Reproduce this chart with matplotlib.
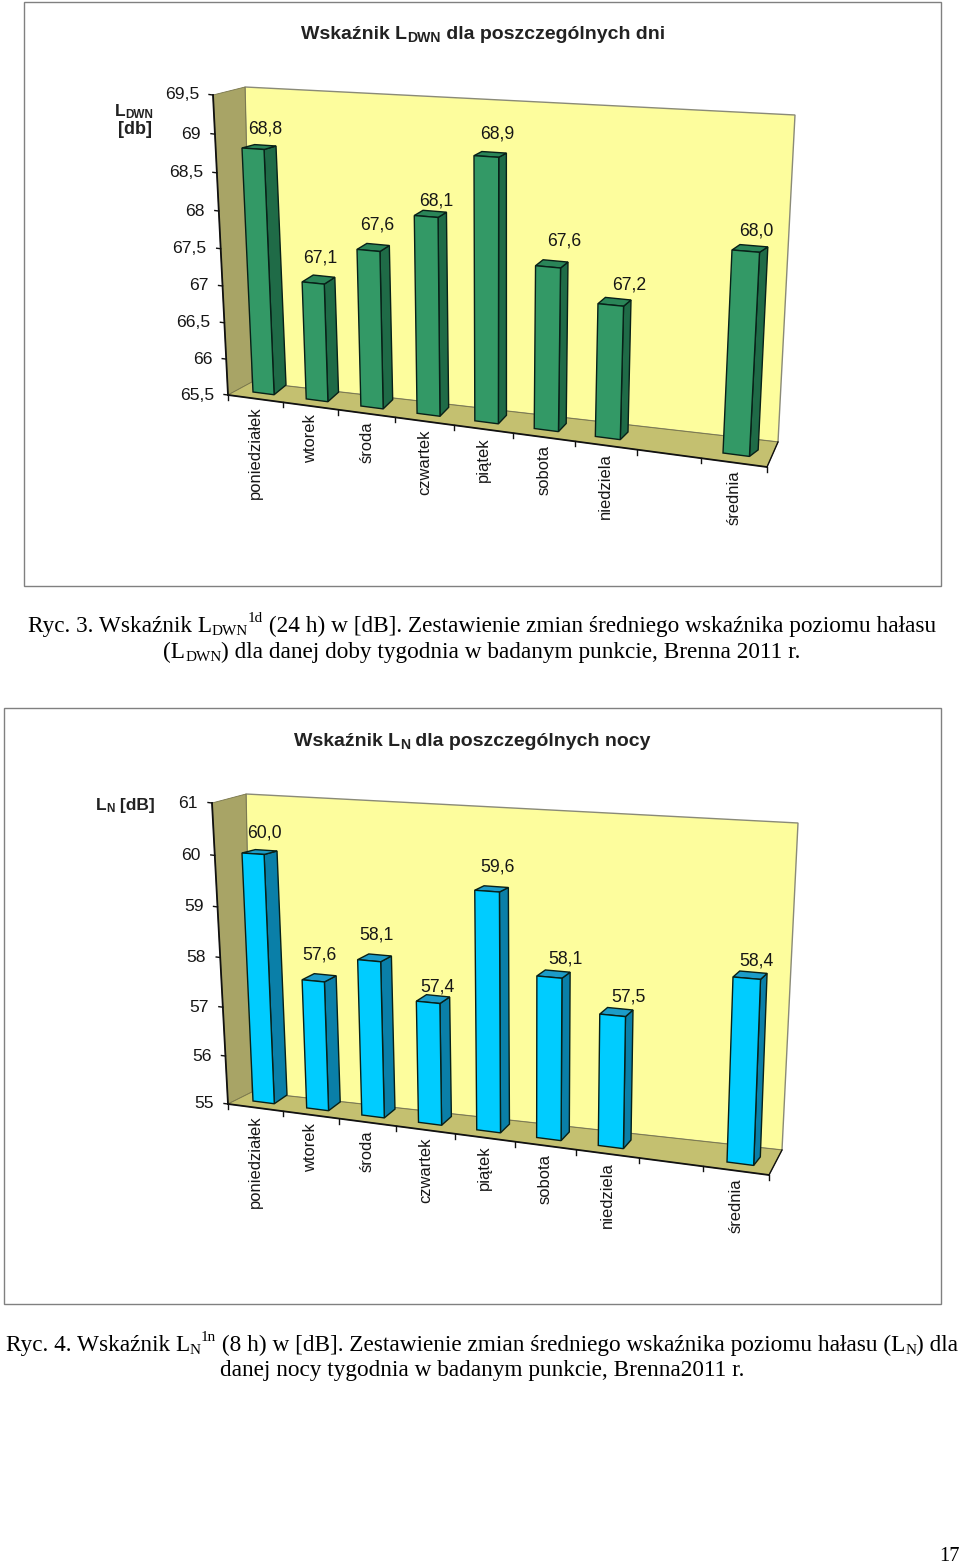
#!/usr/local/bin/python3
'''Two pseudo-3D column charts on a scanned report page
'''

import numpy as np
import matplotlib
matplotlib.use('Agg')
import matplotlib.pyplot as plt
from matplotlib.patches import Polygon, Rectangle
from matplotlib.transforms import Transform

days = ['poniedziałek', 'wtorek', 'środa', 'czwartek', 'piątek', 'sobota',
        'niedziela', 'średnia']
# the slot before the average stays empty
slots = [0, 1, 2, 3, 4, 5, 6, 8]

ldwn_values = [68.8, 67.1, 67.6, 68.1, 68.9, 67.6, 67.2, 68.0]
ldwn_ticks = [65.5, 66, 66.5, 67, 67.5, 68, 68.5, 69, 69.5]

ln_values = [60.0, 57.6, 58.1, 57.4, 59.6, 58.1, 57.5, 58.4]
ln_ticks = [55, 56, 57, 58, 59, 60, 61]

# nudges of the value labels in pixels, off the front top edge of each column
ldwn_nudge = [(12, -20), (7, -25), (9, -25), (10, -15), (11, -22), (16, -26), (18, -20), (11, -20)]
ln_nudge = [(11, -21), (6, -26), (7, -26), (9, -15), (10, -24), (16, -18), (16, -18), (10, -17)]

WALL = '#FDFD9D'
SIDE = '#A8A466'
FLOOR = '#C4C070'
SERIF = 'Liberation Serif'
SANS = 'Liberation Sans'
INK = '#161616'


class Plane(Transform):
    '''Projective map from (slot, value) to page pixels, fitted on 4 anchors
    '''
    input_dims = 2
    output_dims = 2

    def __init__(self, src, dst):
        super().__init__()
        A, b = [], []
        for (u, v), (x, y) in zip(src, dst):
            A.append([u, v, 1, 0, 0, 0, -u * x, -v * x])
            A.append([0, 0, 0, u, v, 1, -u * y, -v * y])
            b += [x, y]
        self.m = np.append(np.linalg.solve(np.array(A, float), np.array(b, float)), 1).reshape(3, 3)

    def transform_non_affine(self, values):
        pts = np.column_stack([np.asarray(values, float), np.ones(len(values))]) @ self.m.T
        return pts[:, :2] / pts[:, 2:]


def seq_text(ax, cx, y, parts, family=SERIF, weight='normal', size=16.75, color='k', align='center'):
    '''Write runs of text with sub and superscripts on one baseline
    parts: (string, relative size, rise in pixels)
    '''
    rend = ax.figure.canvas.get_renderer()

    def advance(s, fs):
        probe = ax.text(0, 0, s + '|', family=family, weight=weight, fontsize=fs)
        full = probe.get_window_extent(rend).width
        probe.set_text('|')
        bar = probe.get_window_extent(rend).width
        probe.remove()
        return full - bar

    widths = [advance(s, size * r) for s, r, _ in parts]
    x = cx - sum(widths) / 2 if align == 'center' else cx
    for (s, r, rise), w in zip(parts, widths):
        ax.text(x, y - rise, s, family=family, weight=weight, fontsize=size * r,
                color=color, va='baseline', ha='left')
        x += w


def draw_chart(ax, cfg, values, ticks, nudge, front, side, top):
    vmin, vmax = ticks[0], ticks[-1]
    box = [(0, vmin), (9, vmin), (0, vmax), (9, vmax)]
    back_plane = Plane(box, cfg['back'])
    axis_plane = Plane(box, cfg['axis'])
    face_plane = Plane(cfg['face_uv'], cfg['face'])
    rear_plane = Plane(cfg['rear_uv'], cfg['rear'])

    # walls and floor
    tl, tr = back_plane.transform([(0, vmax), (9, vmax)])
    bl, br = back_plane.transform([(0, vmin), (9, vmin)])
    atl, abl, abr = axis_plane.transform([(0, vmax), (0, vmin), (9, vmin)])
    ax.add_patch(Polygon([tl, tr, br, bl], fc=WALL, ec='#8a8a78', lw=1.0, zorder=1))
    ax.add_patch(Polygon([atl, tl, bl, abl], fc=SIDE, ec='#77744a', lw=0.6, zorder=1))
    ax.add_patch(Polygon([abl, bl, br, abr], fc=FLOOR, ec='#77744a', lw=0.6, zorder=1))

    # axis lines and ticks
    ax.plot(*zip(atl, abl), color='#111111', lw=1.3, zorder=2)
    ax.plot(*zip(abl, abr), color='#111111', lw=1.3, zorder=2)
    ax.plot(*zip(abr, br), color='#111111', lw=1.0, zorder=2)
    for t in ticks:
        x, y = axis_plane.transform([(0, t)])[0]
        ax.plot([x - 4, x], [y - 0.5, y], color='#111111', lw=1.0, zorder=2)
        ax.text(x - 14, y, f'{t:g}'.replace('.', ','), family=SANS, fontsize=12.6, color=INK,
                ha='right', va='center')
    for u in range(10):
        x, y = axis_plane.transform([(u, vmin)])[0]
        ax.plot([x, x], [y, y + 5], color='#111111', lw=1.0, zorder=2)

    # columns, left to right
    for n, (slot, val) in enumerate(zip(slots, values)):
        u0, u1 = slot + 0.3, slot + 0.7
        a, b, c, d = face_plane.transform([(u0, vmin), (u1, vmin), (u1, val), (u0, val)])
        e, f = rear_plane.transform([(u1, vmin), (u1, val)])
        g = rear_plane.transform([(u0, val)])[0]
        ax.add_patch(Polygon([b, e, f, c], fc=side, ec='#082018', lw=1.0, zorder=3))
        ax.add_patch(Polygon([d, c, f, g], fc=top, ec='#082018', lw=1.0, zorder=3))
        ax.add_patch(Polygon([a, b, c, d], fc=front, ec='#082018', lw=1.0, zorder=3))

        cx, cy = (c + d) / 2
        dx, dy = nudge[n]
        ax.text(cx + dx, cy + dy, f'{val:.1f}'.replace('.', ','), family=SANS, fontsize=12.7,
                color=INK, ha='center', va='center', zorder=4)

        lx, ly = axis_plane.transform([(slot + 0.5, vmin)])[0]
        ax.text(lx, ly + 8, days[n], family=SANS, fontsize=11.9, color=INK, rotation=90,
                ha='center', va='top', zorder=4)


chart1 = {
    'back': [(252, 382), (778, 442), (245, 87), (795, 115)],
    'axis': [(228, 395), (767, 467), (213, 95), (781, 136)],
    'face_uv': [(0.3, 65.5), (8.3, 65.5), (0.3, 68.8), (8.3, 68.0)],
    'face': [(253, 392), (723, 453), (242, 148), (732, 250)],
    'rear_uv': [(0.7, 65.5), (6.7, 65.5), (0.7, 68.8), (6.7, 67.2)],
    'rear': [(286, 385), (628, 432), (276, 146), (631, 300)],
}
chart2 = {
    'back': [(252, 1092), (782, 1150), (246, 794), (798, 823)],
    'axis': [(228, 1104), (769, 1175), (212, 803), (784, 844)],
    'face_uv': [(0.3, 55), (8.3, 55), (0.3, 60.0), (8.3, 58.4)],
    'face': [(253, 1101), (727, 1162), (242, 853), (733, 977)],
    'rear_uv': [(0.7, 55), (6.7, 55), (0.7, 60.0), (6.7, 57.5)],
    'rear': [(287, 1095), (631, 1140), (277, 851), (633, 1010)],
}

if __name__ == '__main__':

    fig = plt.figure(figsize=(9.6, 15.64), dpi=100)
    ax = fig.add_axes([0, 0, 1, 1])
    ax.set_xlim(0, 960)
    ax.set_ylim(1564, 0)
    ax.axis('off')
    fig.canvas.draw()

    # chart frames
    ax.add_patch(Rectangle((23.5, 1.5), 917, 584, fc='white', ec='#808080', lw=1.0))
    ax.add_patch(Rectangle((3.5, 707.5), 937, 596, fc='white', ec='#808080', lw=1.0))

    draw_chart(ax, chart1, ldwn_values, ldwn_ticks, ldwn_nudge, '#339966', '#1F6B47', '#2A8558')
    draw_chart(ax, chart2, ln_values, ln_ticks, ln_nudge, '#00CCFF', '#0A7FA8', '#1C9CC8')

    # chart titles
    seq_text(ax, 483, 39, [('Wskaźnik L', 1, 0), ('DWN', 0.72, -3), (' dla poszczególnych dni', 1, 0)],
             family=SANS, weight='bold', size=14, color='#222222')
    seq_text(ax, 472, 746, [('Wskaźnik L', 1, 0), ('N', 0.72, -3), (' dla poszczególnych nocy', 1, 0)],
             family=SANS, weight='bold', size=14, color='#222222')

    # axis captions
    seq_text(ax, 115, 116, [('L', 1, 0), ('DWN', 0.68, -2)], family=SANS, weight='bold', size=12.5,
             color='#222222', align='left')
    ax.text(152, 134, '[db]', family=SANS, weight='bold', fontsize=13, color='#222222',
            ha='right', va='baseline')
    seq_text(ax, 96, 810, [('L', 1, 0), ('N', 0.68, -2), (' [dB]', 1, 0)], family=SANS, weight='bold',
             size=12.5, color='#222222', align='left')

    # figure captions
    seq_text(ax, 482, 632, [('Ryc. 3. Wskaźnik L', 1, 0), ('DWN', 0.65, -3), ('1d', 0.65, 10),
                            (' (24 h) w [dB]. Zestawienie zmian średniego wskaźnika poziomu hałasu', 1, 0)])
    seq_text(ax, 482, 658, [('(L', 1, 0), ('DWN', 0.65, -3),
                            (') dla danej doby tygodnia w badanym punkcie, Brenna 2011 r.', 1, 0)])
    seq_text(ax, 482, 1351, [('Ryc. 4. Wskaźnik L', 1, 0), ('N', 0.65, -3), ('1n', 0.65, 10),
                             (' (8 h) w [dB]. Zestawienie zmian średniego wskaźnika poziomu hałasu (L', 1, 0),
                             ('N', 0.65, -3), (') dla', 1, 0)])
    seq_text(ax, 482, 1376, [('danej nocy tygodnia w badanym punkcie, Brenna2011 r.', 1, 0)])

    ax.text(960, 1561, '17', family=SERIF, fontsize=14.7, ha='right', va='baseline', color='k')

    fig.savefig('out.png', dpi=100)
    plt.close(fig)
